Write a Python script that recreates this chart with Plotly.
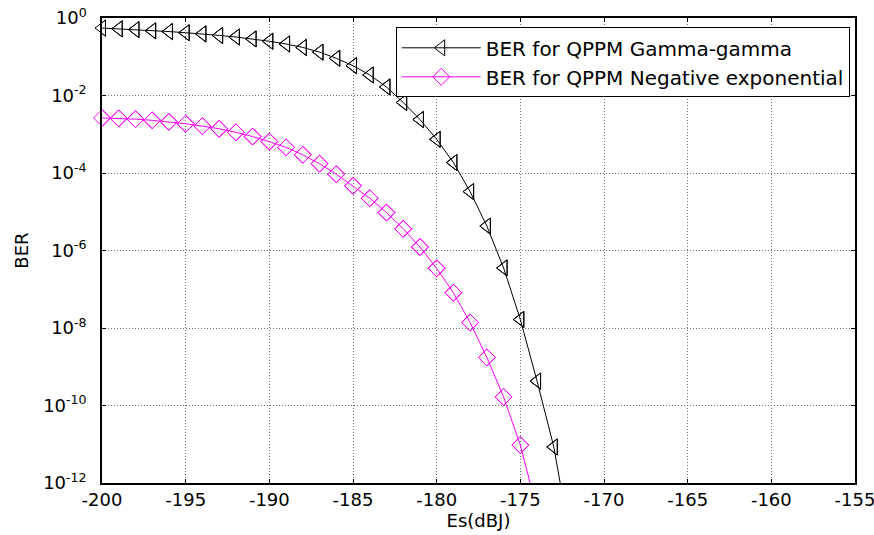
import plotly.graph_objects as go

# Es (dBJ) sample points, one marker every 1 dB
es_gg = [-200, -199, -198, -197, -196, -195, -194, -193, -192, -191,
         -190, -189, -188, -187, -186, -185, -184, -183, -182, -181,
         -180, -179, -178, -177, -176, -175, -174, -173, -172]
# log10(BER), Gamma-gamma
log_ber_gg = [-0.26, -0.28, -0.30, -0.33, -0.35, -0.38, -0.41, -0.45, -0.49, -0.54,
              -0.60, -0.67, -0.76, -0.88, -1.04, -1.23, -1.47, -1.78, -2.18, -2.62,
              -3.13, -3.73, -4.48, -5.37, -6.45, -7.78, -9.37, -11.07, -13.5]

es_ne = [-200, -199, -198, -197, -196, -195, -194, -193, -192, -191,
         -190, -189, -188, -187, -186, -185, -184, -183, -182, -181,
         -180, -179, -178, -177, -176, -175, -174]
# log10(BER), Negative exponential
log_ber_ne = [-2.58, -2.59, -2.61, -2.64, -2.68, -2.73, -2.79, -2.86, -2.95, -3.06,
              -3.19, -3.34, -3.53, -3.76, -4.03, -4.33, -4.65, -5.02, -5.44, -5.91,
              -6.46, -7.09, -7.86, -8.76, -9.78, -11.02, -12.7]

x_ticks = [-200, -195, -190, -185, -180, -175, -170, -165, -160, -155]
y_tick_exps = [0, -2, -4, -6, -8, -10, -12]

ber_gg = [10 ** v for v in log_ber_gg]
ber_ne = [10 ** v for v in log_ber_ne]

FONT = "DejaVu Sans"
Y_MIN = -12

fig = go.Figure()

series = [
    ("BER for QPPM Gamma-gamma", es_gg, ber_gg, log_ber_gg, "black", "triangle-left-open", 14),
    ("BER for QPPM Negative exponential", es_ne, ber_ne, log_ber_ne, "#ff00ff", "diamond-open", 13),
]
for name, xs, ys, logs, col, sym, size in series:
    fig.add_trace(go.Scatter(
        x=xs, y=ys, name=name, mode="lines+markers",
        line=dict(color=col, width=1),
        marker=dict(symbol=sym, size=size, color=col, line=dict(width=1, color=col)),
        cliponaxis=True,
    ))
    xin = [x for x, l in zip(xs, logs) if l >= Y_MIN]
    yin = [y for y, l in zip(ys, logs) if l >= Y_MIN]
    fig.add_trace(go.Scatter(
        x=xin, y=yin, mode="markers", showlegend=False, hoverinfo="skip",
        marker=dict(symbol=sym, size=size, color=col, line=dict(width=1, color=col)),
        cliponaxis=False,
    ))

fig.update_layout(
    width=874, height=535,
    margin=dict(l=102, r=19, t=18, b=52, autoexpand=False),
    paper_bgcolor="white", plot_bgcolor="white",
    font=dict(family=FONT, size=18, color="black"),
    showlegend=True,
    legend=dict(
        x=0.993, xanchor="right", y=0.98, yanchor="top",
        bgcolor="white", bordercolor="black", borderwidth=1,
        font=dict(family=FONT, size=20, color="black"),
        itemwidth=79, tracegroupgap=0,
    ),
)

GRID = dict(showgrid=True, gridcolor="#6e6e6e", griddash="1px,2px", gridwidth=1)

fig.update_xaxes(
    range=[-200, -155], tickvals=x_ticks, ticktext=[str(v) for v in x_ticks],
    showline=True, linecolor="black", linewidth=1.5, mirror="allticks",
    ticks="inside", ticklen=4, tickcolor="black",
    zeroline=False, automargin=False, ticklabeloverflow="allow",
    title=dict(text="Es(dBJ)", standoff=4, font=dict(family=FONT, size=18)),
    tickfont=dict(family=FONT, size=18),
    **GRID,
)
fig.update_yaxes(
    type="log", range=[-12, 0],
    tickvals=[10 ** e for e in y_tick_exps],
    ticktext=["10<sup>%d</sup>" % e for e in y_tick_exps],
    showline=True, linecolor="black", linewidth=1.5, mirror="allticks",
    ticks="inside", ticklen=4, tickcolor="black",
    zeroline=False, ticklabelstandoff=10, automargin=False, ticklabeloverflow="allow",
    title=dict(text="BER", standoff=10, font=dict(family=FONT, size=18)),
    tickfont=dict(family=FONT, size=18),
    **GRID,
)

# remove the browser's default page margin so the 874x535 figure fills the window
fig.write_html(
    "out.html",
    config={"displayModeBar": False},
    post_script="document.body.style.margin='0';document.body.style.overflow='hidden';",
)
